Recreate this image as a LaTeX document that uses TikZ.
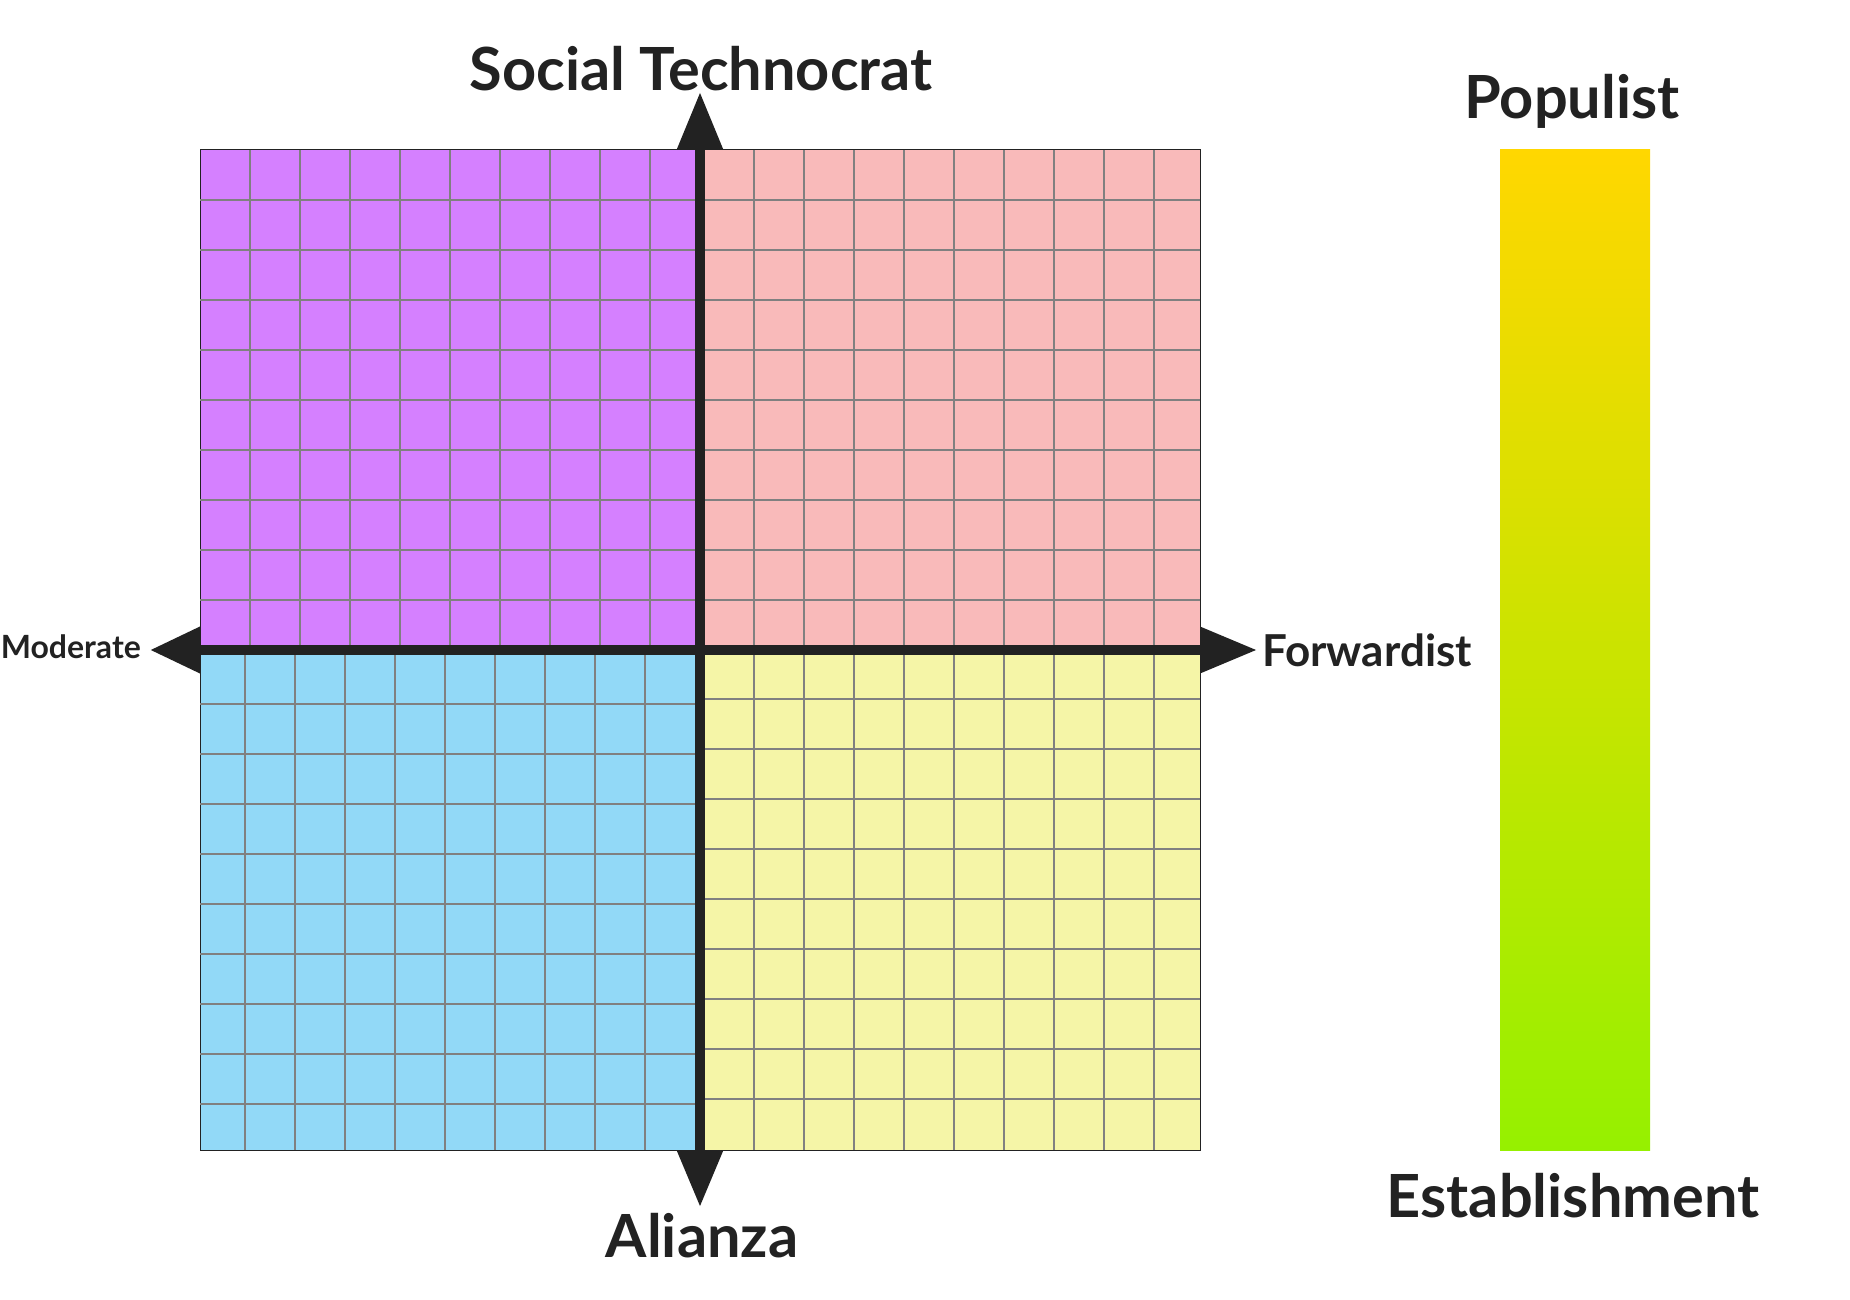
\documentclass[tikz,border=0pt]{standalone}
\usepackage{fontspec}
\setmainfont{Lato}[UprightFont=* Bold]
\usepackage{tikz}
\usetikzlibrary{positioning,arrows.meta}
\definecolor{ink}{HTML}{222222}
\definecolor{libleft}{HTML}{D580FF}
\definecolor{authright}{HTML}{F9BABA}
\definecolor{libdown}{HTML}{92D9F7}
\definecolor{rightdown}{HTML}{F5F5A7}
\definecolor{popgold}{HTML}{FFD700}
\definecolor{estgreen}{HTML}{96F000}

\begin{document}
\begin{tikzpicture}[x=1pt, y=-1pt, quad/.style={draw=ink, line width=1pt}, grid line/.style={draw=gray, line width=1.3pt}, axis/.style={ink, line width=10pt}, big label/.style={ink, inner sep=0pt, anchor=base, font=\fontsize{59.5}{71}\selectfont}]
    \useasboundingbox (0,0) rectangle (1850,1300);

    % quadrants
    \filldraw[quad, fill=libleft] (200,150) rectangle (700,650);
    \filldraw[quad, fill=authright] (700,150) rectangle (1200,650);
    \filldraw[quad, fill=libdown] (200,650) rectangle (700,1150);
    \filldraw[quad, fill=rightdown] (700,650) rectangle (1200,1150);

    % grid lines
    \foreach \x in {250,300,...,650} \draw[grid line] (\x,150) -- (\x,650);
    \foreach \y in {200,250,...,600} \draw[grid line] (200,\y) -- (700,\y);
    \foreach \x in {754,804,...,1154} \draw[grid line] (\x,150) -- (\x,650);
    \foreach \y in {200,250,...,600} \draw[grid line] (700,\y) -- (1200,\y);
    \foreach \x in {245,295,...,645} \draw[grid line] (\x,650) -- (\x,1150);
    \foreach \y in {704,754,...,1104} \draw[grid line] (200,\y) -- (700,\y);
    \foreach \x in {754,804,...,1154} \draw[grid line] (\x,650) -- (\x,1150);
    \foreach \y in {699,749,...,1099} \draw[grid line] (700,\y) -- (1200,\y);

    % axis ends
    \coordinate (west) at (150,650);
    \coordinate (east) at (1257,650);
    \coordinate (north) at (700,92);
    \coordinate (south) at (700,1207);

    \draw[axis, {Triangle[length=50pt,width=44pt]}-{Triangle[length=57pt,width=44pt]}] (west) -- (east);
    \draw[axis, {Triangle[length=58pt,width=44pt]}-{Triangle[length=57pt,width=44pt]}] (north) -- (south);

    % axis labels
    \node[big label] (up) at (701,91) {Social Technocrat};
    \node[big label] (down) at (702,1257) {Alianza};
    \node[ink, inner sep=0pt, anchor=base west, font=\fontsize{44}{53}\selectfont] (right) at (1262,666) {Forwardist};
    \node[ink, inner sep=0pt, anchor=base east, font=\fontsize{32}{38}\selectfont] (left) at (141,658) {Moderate};

    % third axis bar
    \node[inner sep=0pt, minimum width=150pt, minimum height=1000pt, top color=popgold, bottom color=estgreen] (bar) at (1575,650) {};
    \node[big label] (pop) at (1572,119) {Populist};
    \node[big label] (est) at (1573,1217) {Establishment};
\end{tikzpicture}
\end{document}
